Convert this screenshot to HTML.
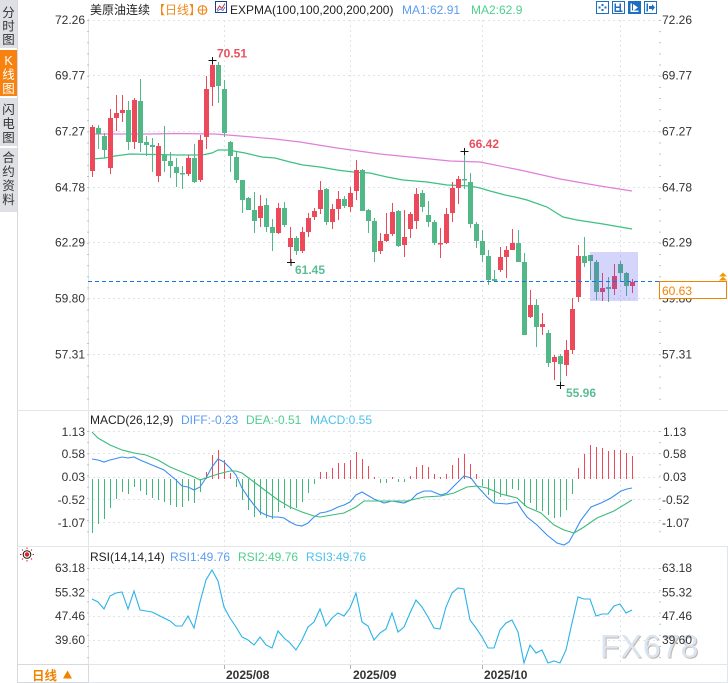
<!DOCTYPE html>
<html><head><meta charset="utf-8"><style>
html,body{margin:0;padding:0;background:#fff;}
svg{display:block;}
text{font-family:"Liberation Sans","Noto Sans CJK SC",sans-serif;}
.ax{font-size:12px;fill:#333;}
</style></head><body>
<svg width="728" height="683" viewBox="0 0 728 683" xmlns="http://www.w3.org/2000/svg">
<rect width="728" height="683" fill="#fff"/>
<!-- sidebar -->
<rect x="0" y="0" width="17" height="48" fill="#dfe0e5"/>
<rect x="0" y="50" width="17" height="46" fill="#f7820f"/>
<rect x="0" y="98" width="17" height="48" fill="#dfe0e5"/>
<rect x="0" y="148" width="17" height="64" fill="#dfe0e5"/>
<g font-size="12.5" text-anchor="middle" fill="#333">
<text x="8.5" y="17">分</text><text x="8.5" y="30.5">时</text><text x="8.5" y="44">图</text>
<text x="8.5" y="65" fill="#fff">K</text><text x="8.5" y="79" fill="#fff">线</text><text x="8.5" y="93" fill="#fff">图</text>
<text x="8.5" y="114">闪</text><text x="8.5" y="128">电</text><text x="8.5" y="142">图</text>
<text x="8.5" y="162">合</text><text x="8.5" y="176">约</text><text x="8.5" y="190">资</text><text x="8.5" y="204">料</text>
</g>
<line x1="17.5" y1="0" x2="17.5" y2="683" stroke="#d6d9de"/>
<!-- watermark (under everything else) -->
<text x="601" y="658.5" font-size="32" letter-spacing="1" fill="#b5a593" fill-opacity="0.8">FX678</text>
<text x="600" y="657.5" font-size="32" letter-spacing="1" fill="#dae5f4">FX678</text>
<!-- pane separators -->
<g stroke="#e2e5ea">
<line x1="17" y1="410.5" x2="728" y2="410.5"/>
<line x1="17" y1="546.5" x2="728" y2="546.5"/>
<line x1="17" y1="664.5" x2="728" y2="664.5"/>
<line x1="17" y1="682.5" x2="728" y2="682.5"/>
<line x1="88.5" y1="18" x2="88.5" y2="683"/>
<line x1="727.5" y1="546" x2="727.5" y2="683"/>
</g>
<!-- gridlines -->
<g stroke="#dfe3e8" stroke-dasharray="2 3">
<line x1="88" y1="20.5" x2="660" y2="20.5"/><line x1="88" y1="75.5" x2="660" y2="75.5"/>
<line x1="88" y1="131.5" x2="660" y2="131.5"/><line x1="88" y1="187.5" x2="660" y2="187.5"/>
<line x1="88" y1="242.5" x2="660" y2="242.5"/><line x1="88" y1="298.5" x2="660" y2="298.5"/>
<line x1="88" y1="354.5" x2="660" y2="354.5"/>
<line x1="88" y1="431.5" x2="660" y2="431.5"/><line x1="88" y1="453.5" x2="660" y2="453.5"/>
<line x1="88" y1="477.5" x2="660" y2="477.5"/><line x1="88" y1="499.5" x2="660" y2="499.5"/>
<line x1="88" y1="522.5" x2="660" y2="522.5"/>
<line x1="88" y1="568.5" x2="660" y2="568.5"/><line x1="88" y1="592.5" x2="660" y2="592.5"/>
<line x1="88" y1="616.5" x2="660" y2="616.5"/><line x1="88" y1="640.5" x2="660" y2="640.5"/>
<line x1="224.5" y1="20" x2="224.5" y2="664"/><line x1="350.5" y1="20" x2="350.5" y2="664"/>
<line x1="482.5" y1="20" x2="482.5" y2="664"/><line x1="620.5" y1="20" x2="620.5" y2="664"/>
</g>
<g stroke="#aab2ba" stroke-width="1.5" stroke-dasharray="1 10.14">
<line x1="88" y1="20" x2="88" y2="405"/><line x1="660" y1="20" x2="660" y2="405"/>
<line x1="88" y1="431" x2="88" y2="540"/><line x1="660" y1="431" x2="660" y2="540"/>
<line x1="88" y1="568" x2="88" y2="660"/><line x1="660" y1="568" x2="660" y2="660"/>
</g>
<!-- header -->
<text x="90" y="14" font-size="12" fill="#222">美原油连续</text>
<text x="153" y="14" font-size="12" fill="#f08a1c">【日线】</text>
<circle cx="202.5" cy="10" r="4.3" fill="none" stroke="#f08a1c" stroke-width="1.2"/>
<path d="M198.2 10H206.8M202.5 5.7V14.3" stroke="#f08a1c" stroke-width="1"/>
<rect x="215.5" y="1.5" width="11" height="11" fill="#fff" stroke="#1a3f90"/>
<polyline points="217,10 219.5,6 222,8.5 225,3.5" fill="none" stroke="#d03030" stroke-width="1"/>
<polyline points="217,11.5 220,9 223,10.5 225,7" fill="none" stroke="#3060d0" stroke-width="0.8"/>
<text x="230" y="14" font-size="12" fill="#222">EXPMA(100,100,200,200,200)</text>
<text x="402" y="14" font-size="12" fill="#5a9cf2">MA1:62.91</text>
<text x="471" y="14" font-size="12" fill="#4fcf8d">MA2:62.9</text>
<!-- top right icons -->
<g stroke="#1e6fc0" fill="#fff">
<rect x="596.5" y="1.5" width="12" height="12"/>
<rect x="612.5" y="1.5" width="12" height="12"/>
<rect x="628.5" y="1.5" width="12" height="12" fill="#1e6fc0"/>
<rect x="644.5" y="1.5" width="12" height="12"/>
</g>
<g fill="#1e6fc0">
<rect x="601.5" y="4" width="2" height="2"/><rect x="601.5" y="9" width="2" height="2"/><rect x="598.5" y="6.5" width="2" height="2"/><rect x="604.5" y="6.5" width="2" height="2"/>
<rect x="614.5" y="3.5" width="1.5" height="8"/><rect x="619.5" y="3.5" width="1.5" height="8"/><rect x="614.5" y="10.5" width="8" height="1.5"/><rect x="616" y="6.5" width="3.5" height="1.5"/>
<rect x="646.5" y="3.5" width="1.5" height="8"/><polygon points="649,6 652,6 652,4 655,7.5 652,11 652,9 649,9"/>
</g>
<g fill="#fff"><rect x="630.5" y="3.5" width="1.5" height="8"/><rect x="630.5" y="10.5" width="8" height="1.5"/><polygon points="633,4 638,7.5 633,11"/></g>
<!-- axis labels main -->
<g class="ax" text-anchor="end">
<text x="85" y="24">72.26</text><text x="85" y="79.5">69.77</text><text x="85" y="135.5">67.27</text>
<text x="85" y="191.5">64.78</text><text x="85" y="246.5">62.29</text><text x="85" y="302.5">59.80</text>
<text x="85" y="358.5">57.31</text>
<text x="85" y="436">1.13</text><text x="85" y="458">0.58</text><text x="85" y="481">0.03</text>
<text x="85" y="504">-0.52</text><text x="85" y="527">-1.07</text>
<text x="85" y="572">63.18</text><text x="85" y="596.5">55.32</text><text x="85" y="620">47.46</text><text x="85" y="644">39.60</text>
</g>
<g class="ax">
<text x="662" y="24">72.26</text><text x="662" y="79.5">69.77</text><text x="662" y="135.5">67.27</text>
<text x="662" y="191.5">64.78</text><text x="662" y="246.5">62.29</text><text x="662" y="302.5">59.80</text>
<text x="662" y="358.5">57.31</text>
<text x="663" y="436">1.13</text><text x="663" y="458">0.58</text><text x="663" y="481">0.03</text>
<text x="662" y="504">-0.52</text><text x="662" y="527">-1.07</text>
<text x="662" y="572">63.18</text><text x="662" y="596.5">55.32</text><text x="662" y="620">47.46</text><text x="662" y="644">39.60</text>
</g>
<!-- EXPMA lines -->
<polyline fill="none" stroke="#e07fd9" stroke-width="1.2" points="92,134 150,134 175,133.5 215,134 240,136 275,139 300,142 337,148 380,154 420,158 450,161 480,162 520,170 560,179 600,186 632,191"/>
<polyline fill="none" stroke="#3cc17f" stroke-width="1.2" points="92,159 105,158 115,156 130,154 178,155 202,155 212,153 218,150 228,150 245,153 262,157 275,158 290,162 303,165 320,167 337,170 353,172 370,173 387,177 403,180 427,182 447,185 470,186 480,188 490,191 505,195 515,197 527,200 547,207 563,217 577,220 603,224 632,229"/>
<!-- candles red -->
<path stroke="#ec4a5b" stroke-width="1" fill="none" d="M92.5 125V177M110.5 109V174M116.5 95V131M122.5 95V122M134.5 98V149M158.5 143V182M188.5 155V176M200.5 135V182M206.5 76V149M212.5 60V106M260.5 195V227M278.5 203V234M290.5 227V262M302.5 227V253M308.5 213V237M314.5 208V220M320.5 181V214M332.5 204V229M338.5 191V220M350.5 187V212M356.5 160V200M380.5 233V254M386.5 213V242M392.5 203V236M404.5 210V257M410.5 212V238M416.5 188V229M440.5 228V258M446.5 208V244M452.5 182V222M458.5 176V204M500.5 247V272M506.5 246V278M512.5 229V250M530.5 290V318M542.5 313V335M554.5 355V380M566.5 340V376M572.5 298V354M578.5 245V302M602.5 273V301M614.5 264V295M632.5 279V293"/>
<path fill="#ec4a5b" d="M90 127h5v44h-5zM108 118h5v50h-5zM114 113h5v5h-5zM120 110h5v3h-5zM132 100h5v42h-5zM156 146h5v30h-5zM186 158h5v16h-5zM198 140h5v40h-5zM204 89h5v48h-5zM210 65h5v22h-5zM258 206h5v12h-5zM276 208h5v25h-5zM288 238h5v9h-5zM300 232h5v19h-5zM306 218h5v14h-5zM312 211h5v6h-5zM318 190h5v19h-5zM330 209h5v13h-5zM336 199h5v10h-5zM348 193h5v14h-5zM354 170h5v21h-5zM378 241h5v10h-5zM384 234h5v7h-5zM390 212h5v22h-5zM402 237h5v8h-5zM408 214h5v15h-5zM414 194h5v27h-5zM438 243h5v1.5h-5zM444 214h5v29h-5zM450 188h5v25h-5zM456 179h5v9h-5zM498 257h5v13h-5zM504 250h5v7h-5zM510 243h5v7h-5zM528 305h5v12h-5zM540 324h5v3h-5zM552 357h5v5h-5zM564 350h5v15h-5zM570 309h5v41h-5zM576 256h5v41h-5zM600 288h5v4h-5zM612 276h5v13h-5zM630 282h5v4h-5z"/>
<!-- candles green -->
<path stroke="#53b887" stroke-width="1" fill="none" d="M98.5 125V149M104.5 133V158M128.5 101V150M140.5 79V152M146.5 136V156M152.5 138V172M164.5 126V172M170.5 152V178M176.5 158V187M182.5 166V189M194.5 144V183M218.5 62V103M224.5 80V137M230.5 141V172M236.5 152V183M242.5 180V213M248.5 197V210M254.5 192V233M266.5 198V232M272.5 219V251M284.5 202V227M296.5 236V255M326.5 188V225M344.5 196V208M362.5 169V211M368.5 209V233M374.5 218V262M398.5 210V247M422.5 190V212M428.5 201V227M434.5 220V245M464.5 151V189M470.5 173V228M476.5 222V248M482.5 230V262M488.5 250V285M494.5 270V282M518.5 230V262M524.5 253V335M536.5 299V347M548.5 330V367M560.5 354V385M584.5 237V267M590.5 255V280M596.5 260V300M608.5 277V302M620.5 261V282M626.5 272V296"/>
<path fill="#53b887" d="M96 128h5v6h-5zM102 136h5v14h-5zM126 110h5v32h-5zM138 101h5v42h-5zM144 142h5v3h-5zM150 145h5v2h-5zM162 155h5v6h-5zM168 161h5v5h-5zM174 167h5v6h-5zM180 173h5v1.5h-5zM192 158h5v24h-5zM216 65h5v21h-5zM222 89h5v44h-5zM228 142h5v14h-5zM234 157h5v23h-5zM240 180h5v20h-5zM246 198h5v12h-5zM252 210h5v11h-5zM264 205h5v22h-5zM270 227h5v6h-5zM282 208h5v17h-5zM294 238h5v13h-5zM324 189h5v33h-5zM342 199h5v7h-5zM360 170h5v41h-5zM366 210h5v11h-5zM372 221h5v31h-5zM396 211h5v35h-5zM420 193h5v14h-5zM426 215h5v7h-5zM432 222h5v21h-5zM462 179h5v1.5h-5zM468 182h5v42h-5zM474 224h5v17h-5zM480 241h5v14h-5zM486 256h5v24h-5zM492 279h5v2h-5zM516 243h5v19h-5zM522 262h5v73h-5zM534 305h5v22h-5zM546 333h5v30h-5zM558 356h5v8h-5zM582 256h5v7h-5zM588 255h5v6h-5zM594 262h5v30h-5zM606 287h5v2h-5zM618 264h5v9h-5zM624 273h5v13h-5z"/>
<!-- selection overlay -->
<rect x="590" y="252" width="48" height="49" fill="rgb(80,80,240)" fill-opacity="0.24"/>
<!-- current price line -->
<line x1="88" y1="281.5" x2="659" y2="281.5" stroke="#1a73e8" stroke-dasharray="4 3"/>
<rect x="659.5" y="281.5" width="67" height="17" fill="#fff" stroke="#f08300"/>
<text x="662" y="295" font-size="12" fill="#f08300">60.63</text>
<polygon points="723,272.5 727,276.5 719,276.5" fill="#f39800"/>
<polygon points="723,276.5 727,280.5 719,280.5" fill="#f39800"/>
<!-- high/low markers -->
<path d="M208.5 60.5h8M212.5 57v7M460.5 151.5h8M464.5 148v7M287 262.5h8M291 259v7M556.5 385.5h8M560.5 382v7" stroke="#111" stroke-width="1"/>
<g font-size="12" font-weight="bold">
<text x="217" y="57.5" fill="#e9505e">70.51</text>
<text x="469" y="148" fill="#e9505e">66.42</text>
<text x="295" y="274" fill="#5bbd93">61.45</text>
<text x="566" y="397" fill="#5bbd93">55.96</text>
</g>
<!-- MACD header -->
<text x="90" y="424" font-size="12" fill="#222">MACD(26,12,9)</text>
<text x="181" y="424" font-size="12" fill="#5a9cf2">DIFF:-0.23</text>
<text x="246" y="424" font-size="12" fill="#4fcf8d">DEA:-0.51</text>
<text x="310" y="424" font-size="12" fill="#4cc0ec">MACD:0.55</text>
<!-- MACD bars -->
<path stroke="#3fb97a" stroke-width="1" d="M92.5 479V533M98.5 479V524M104.5 479V519M110.5 479V508M116.5 479V499M122.5 479V492M128.5 479V494M134.5 479V487M140.5 479V491M146.5 479V495M152.5 479V498M158.5 479V500M164.5 479V502M170.5 479V505M176.5 479V507M182.5 479V507M188.5 479V501M194.5 479V503M200.5 479V492M236.5 479V487M242.5 479V500M248.5 479V510M254.5 479V517M260.5 479V515M266.5 479V518M272.5 479V519M278.5 479V512M284.5 479V508M290.5 479V509M296.5 479V508M302.5 479V502M308.5 479V493M314.5 479V484M380.5 479V483M386.5 479V483M398.5 479V482M404.5 479V482M482.5 479V486M488.5 479V495M494.5 479V502M500.5 479V497M506.5 479V495M512.5 479V489M518.5 479V490M524.5 479V506M530.5 479V503M536.5 479V510M542.5 479V511M548.5 479V515M554.5 479V518M560.5 479V517M566.5 479V510M572.5 479V494"/>
<path stroke="#ec4a5b" stroke-width="1" d="M206.5 479V472M212.5 479V455M218.5 479V450M224.5 479V460M230.5 479V473M320.5 479V472M326.5 479V472M332.5 479V468M338.5 479V463M344.5 479V463M350.5 479V460M356.5 479V452M362.5 479V459M368.5 479V466M374.5 479V477M392.5 479V477M410.5 479V476M416.5 479V467M422.5 479V465M428.5 479V467M434.5 479V474M440.5 479V477M446.5 479V474M452.5 479V465M458.5 479V458M464.5 479V454M470.5 479V464M476.5 479V474M578.5 479V468M584.5 479V454M590.5 479V445M596.5 479V447M602.5 479V448M608.5 479V451M614.5 479V450M620.5 479V450M626.5 479V453M632.5 479V456"/>
<polyline fill="none" stroke="#3a8ef0" stroke-width="1.1" points="92,459 98,460 104,462 110,460 122,457 128,458 134,457 140,460 152,465 164,470 176,480 182,486 188,487 194,490 200,487 206,478 212,467 218,459 224,462 230,468 236,475 242,488 248,497 254,505 260,512 266,515 272,517 278,517 284,518 290,522 296,525 302,526 308,523 314,517 320,513 326,512 332,510 338,507 344,505 350,502 356,495 362,492 374,499 384,503 392,501 404,503 411,500 417,494 424,491 431,491 441,495 447,493 454,486 464,476 471,478 477,486 487,497 494,503 507,504 517,502 522,510 527,517 537,525 547,535 557,543 564,545 569,542 574,533 581,520 591,507 601,503 611,498 621,491 627,489 632,488"/>
<polyline fill="none" stroke="#3cbb7a" stroke-width="1.1" points="92,432 98,438 110,445 122,450 134,453 146,455 158,460 170,467 182,472 194,477 200,480 206,478 218,474 230,471 236,471 242,473 254,482 266,491 278,500 290,507 302,512 314,516 320,517 332,515 344,513 356,507 364,501 384,501 407,501 424,497 441,496 454,493 467,487 477,486 487,488 501,494 517,498 527,507 541,513 554,525 564,530 574,533 584,527 597,518 614,511 632,500"/>
<!-- RSI header -->
<g transform="translate(27,554.5)">
<path d="M0 -7V-5.5M0 5.5V7M-7 0H-5.5M5.5 0H7M-5 -5L-4 -4M4 4L5 5M-5 5L-4 4M4 -4L5 -5" stroke="#e02020" stroke-width="1"/>
<circle r="3.8" fill="#fff" stroke="#111" stroke-width="1"/>
<circle r="2.2" fill="#e02020"/>
</g>
<text x="90" y="561" font-size="12" fill="#222">RSI(14,14,14)</text>
<text x="170" y="561" font-size="12" fill="#5a9cf2">RSI1:49.76</text>
<text x="238" y="561" font-size="12" fill="#4fcf8d">RSI2:49.76</text>
<text x="306" y="561" font-size="12" fill="#4cc0ec">RSI3:49.76</text>
<polyline fill="none" stroke="#2bb3e8" stroke-width="1.1" points="92,599 98,602 104,609 110,596 116,593 122,592 128,609 134,591 140,610 146,611 152,612 158,615 164,618 170,621 176,626 182,626 188,616 194,628 200,602 206,580 212,570 218,581 224,607 230,618 236,627 242,637 248,640 254,645 260,637 266,645 272,648 278,631 284,638 290,643 296,650 302,640 308,627 314,622 320,609 326,626 332,618 338,613 344,616 350,608 356,593 362,622 368,626 374,640 380,633 386,629 392,613 398,632 404,627 410,613 416,600 422,607 428,617 434,628 440,629 446,607 452,593 458,588 464,589 470,620 476,628 482,637 488,648 494,648 500,630 506,623 512,620 518,632 524,663 530,645 536,653 542,650 548,663 554,661 560,663 566,650 572,623 578,597 584,599 590,599 596,616 602,614 608,614 614,606 620,604 626,613 632,610"/>
<!-- time axis -->
<rect x="17.5" y="664.5" width="71" height="18" fill="#fff" stroke="#d6d9de"/>
<text x="32" y="680" font-size="12.5" font-weight="bold" fill="#f08300">日线</text>
<polygon points="67.5,670.5 72,678.5 63,678.5" fill="#f08300"/>
<path d="M224.5 665V669M350.5 665V669M482.5 665V669" stroke="#aab2ba"/>
<g font-size="12" font-weight="bold" fill="#333">
<text x="226" y="679">2025/08</text>
<text x="353" y="679">2025/09</text>
<text x="484" y="679">2025/10</text>
</g>
</svg>
</body></html>
